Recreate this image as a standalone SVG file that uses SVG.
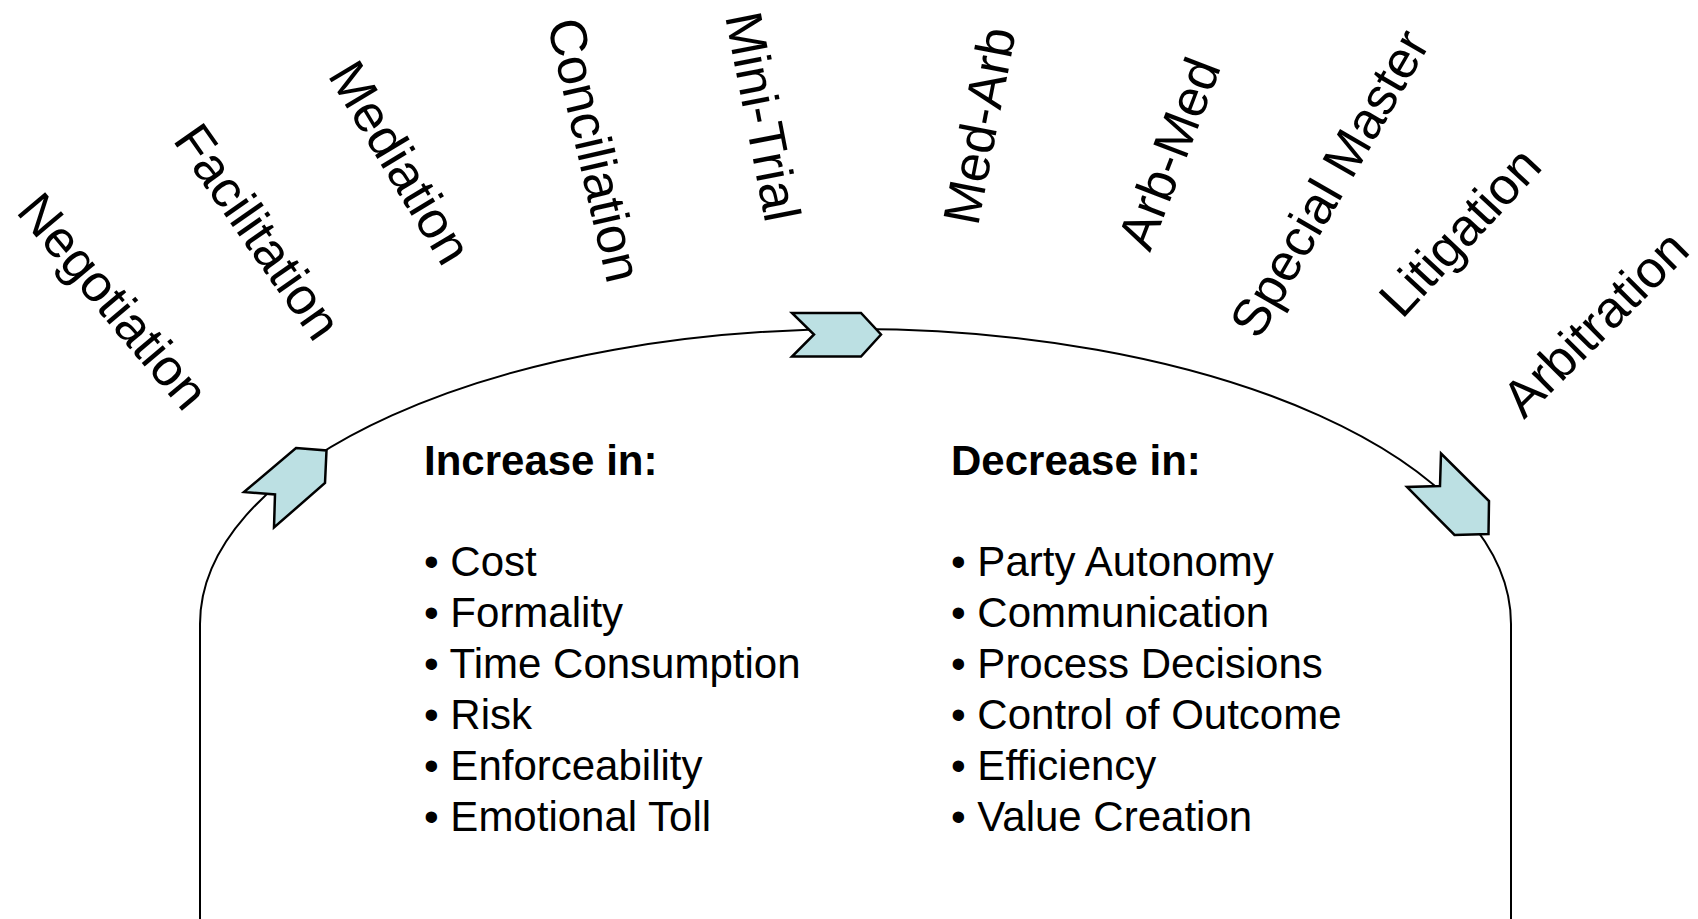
<svg xmlns="http://www.w3.org/2000/svg" width="1698" height="919" viewBox="0 0 1698 919">
<style>
.lbl{font-family:"Liberation Sans",Arial,sans-serif;font-size:52px;fill:#000}
.txt{font-family:"Liberation Sans",Arial,sans-serif;font-size:42px;fill:#000}
.hd{font-weight:bold}
.line{fill:none;stroke:#000;stroke-width:2}
.chev{fill:#BCE0E3;stroke:#000;stroke-width:2.5;stroke-linejoin:miter}
</style>
<rect width="1698" height="919" fill="#fff"/>
<g id="connectors">
<path class="line" d="M200,919 L200,624 A655.5,295 0 0 1 1511,624 L1511,919"/>
<polygon class="chev" points="296,448 326.5,450.5 325,483 274,527.5 275,494.5 244,492"/>
<polygon class="chev" points="792,313 861,313 881,334.5 861,356.5 792,356.5 814,334.5"/>
<polygon class="chev" points="1441,453.5 1489,501 1488.5,534 1454.5,535 1407,487 1440,486"/>
</g>
<g id="negotiation"><text class="lbl" transform="translate(15,212) rotate(50)">Negotiation</text></g>
<g id="facilitation"><text class="lbl" transform="translate(172,140) rotate(55)" font-size="53">Facilitation</text></g>
<g id="mediation"><text class="lbl" transform="translate(327,75) rotate(59)">Mediation</text></g>
<g id="conciliation"><text class="lbl" transform="translate(547,23) rotate(77)">Conciliation</text></g>
<g id="mini-trial"><text class="lbl" transform="translate(725,16) rotate(79)">Mini-Trial</text></g>
<g id="med-arb"><text class="lbl" transform="translate(978,227) rotate(-79)">Med-Arb</text></g>
<g id="arb-med"><text class="lbl" transform="translate(1150,253) rotate(-69)">Arb-Med</text></g>
<g id="special-master"><text class="lbl" transform="translate(1259,341) rotate(-60)" font-size="56">Special Master</text></g>
<g id="litigation"><text class="lbl" transform="translate(1402,320) rotate(-47)">Litigation</text></g>
<g id="arbitration"><text class="lbl" transform="translate(1524,420) rotate(-45)">Arbitration</text></g>
<g id="increase">
<text class="txt hd" x="424" y="475">Increase in:</text>
<text class="txt" x="424" y="576">• Cost</text>
<text class="txt" x="424" y="627">• Formality</text>
<text class="txt" x="424" y="678">• Time Consumption</text>
<text class="txt" x="424" y="729">• Risk</text>
<text class="txt" x="424" y="780">• Enforceability</text>
<text class="txt" x="424" y="831">• Emotional Toll</text>
</g>
<g id="decrease">
<text class="txt hd" x="951" y="475">Decrease in:</text>
<text class="txt" x="951" y="576">• Party Autonomy</text>
<text class="txt" x="951" y="627">• Communication</text>
<text class="txt" x="951" y="678">• Process Decisions</text>
<text class="txt" x="951" y="729">• Control of Outcome</text>
<text class="txt" x="951" y="780">• Efficiency</text>
<text class="txt" x="951" y="831">• Value Creation</text>
</g>
</svg>
